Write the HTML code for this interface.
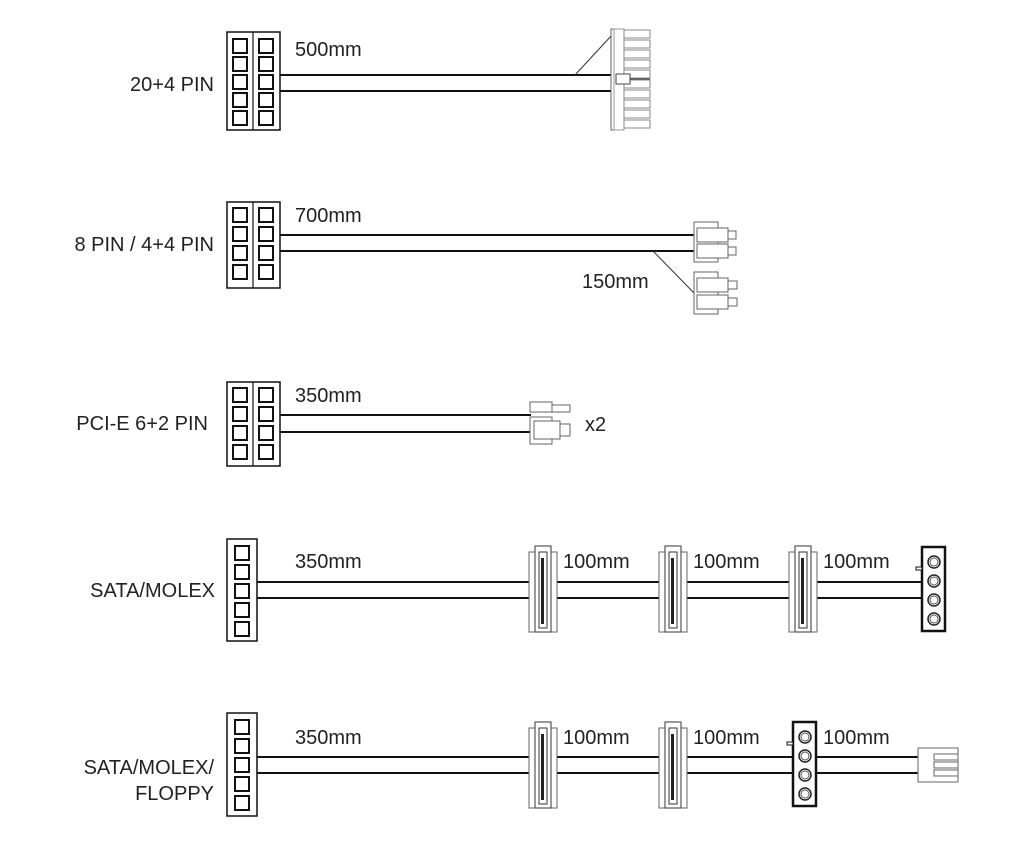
<!DOCTYPE html>
<html><head><style>
body{margin:0;background:#fff}
svg{display:block}
text{font-family:"Liberation Sans",Arial,sans-serif;font-size:20px;fill:#222}
</style></head><body>
<svg width="1024" height="856" viewBox="0 0 1024 856" xmlns="http://www.w3.org/2000/svg">
<defs>
<g id="sq"><rect x="0" y="0" width="14" height="14" fill="none" stroke="#111" stroke-width="2"/></g>
<g id="sata">
<rect x="0" y="6" width="28" height="80" fill="#fff" stroke="#666" stroke-width="1"/>
<rect x="6" y="0" width="16" height="86" fill="#fff" stroke="#555" stroke-width="1.2"/>
<rect x="10" y="6" width="8" height="76" fill="#fff" stroke="#333" stroke-width="1"/>
<rect x="12" y="12" width="3" height="66" fill="#222"/>
</g>
<g id="molex">
<rect x="0" y="0" width="23" height="84" fill="#fff" stroke="#111" stroke-width="2.5"/>
<rect x="-6" y="20" width="6" height="3" fill="#fff" stroke="#111"/>
<circle cx="12" cy="15" r="6" fill="none" stroke="#222" stroke-width="1.5"/><circle cx="12" cy="15" r="4" fill="none" stroke="#555"/>
<circle cx="12" cy="34" r="6" fill="none" stroke="#222" stroke-width="1.5"/><circle cx="12" cy="34" r="4" fill="none" stroke="#555"/>
<circle cx="12" cy="53" r="6" fill="none" stroke="#222" stroke-width="1.5"/><circle cx="12" cy="53" r="4" fill="none" stroke="#555"/>
<circle cx="12" cy="72" r="6" fill="none" stroke="#222" stroke-width="1.5"/><circle cx="12" cy="72" r="4" fill="none" stroke="#555"/>
</g>
</defs>

<!-- Row 1 -->
<text x="214" y="91" text-anchor="end">20+4 PIN</text>
<rect x="227" y="32" width="53" height="98" fill="none" stroke="#111" stroke-width="1.5"/>
<line x1="253" y1="32" x2="253" y2="130" stroke="#111" stroke-width="1.2"/>
<g>
<use href="#sq" x="233" y="39"/><use href="#sq" x="233" y="57"/><use href="#sq" x="233" y="75"/><use href="#sq" x="233" y="93"/><use href="#sq" x="233" y="111"/>
<use href="#sq" x="259" y="39"/><use href="#sq" x="259" y="57"/><use href="#sq" x="259" y="75"/><use href="#sq" x="259" y="93"/><use href="#sq" x="259" y="111"/>
</g>
<text x="295" y="56">500mm</text>
<line x1="280" y1="75" x2="612" y2="75" stroke="#111" stroke-width="2"/>
<line x1="280" y1="91" x2="612" y2="91" stroke="#111" stroke-width="2"/>
<line x1="575" y1="75" x2="612" y2="35" stroke="#333" stroke-width="1"/>
<rect x="611" y="29" width="13" height="101" fill="#fff" stroke="#666"/>
<rect x="614" y="29" width="10" height="101" fill="none" stroke="#999"/>
<g stroke="#888" fill="#fff">
<rect x="624" y="30" width="26" height="8"/><rect x="624" y="40" width="26" height="8"/><rect x="624" y="50" width="26" height="8"/><rect x="624" y="60" width="26" height="8"/><rect x="624" y="70" width="26" height="8"/><rect x="624" y="80" width="26" height="8"/><rect x="624" y="90" width="26" height="8"/><rect x="624" y="100" width="26" height="8"/><rect x="624" y="110" width="26" height="8"/><rect x="624" y="120" width="26" height="8"/>
</g>
<rect x="616" y="74" width="14" height="10" fill="#fff" stroke="#444"/>
<line x1="630" y1="79" x2="650" y2="79" stroke="#444"/>

<!-- Row 2 -->
<text x="214" y="251" text-anchor="end">8 PIN / 4+4 PIN</text>
<rect x="227" y="202" width="53" height="86" fill="none" stroke="#111" stroke-width="1.5"/>
<line x1="253" y1="202" x2="253" y2="288" stroke="#111" stroke-width="1.2"/>
<use href="#sq" x="233" y="208"/><use href="#sq" x="233" y="227"/><use href="#sq" x="233" y="246"/><use href="#sq" x="233" y="265"/>
<use href="#sq" x="259" y="208"/><use href="#sq" x="259" y="227"/><use href="#sq" x="259" y="246"/><use href="#sq" x="259" y="265"/>
<text x="295" y="222">700mm</text>
<line x1="280" y1="235" x2="696" y2="235" stroke="#111" stroke-width="2"/>
<line x1="280" y1="251" x2="696" y2="251" stroke="#111" stroke-width="2"/>
<line x1="653" y1="251" x2="694" y2="293" stroke="#333" stroke-width="1"/>
<g fill="#fff" stroke="#666">
<rect x="694" y="222" width="24" height="40"/><rect x="697" y="228" width="31" height="14"/><rect x="697" y="244" width="31" height="14"/><rect x="728" y="231" width="8" height="8"/><rect x="728" y="247" width="8" height="8"/>
<rect x="694" y="272" width="24" height="42"/><rect x="697" y="278" width="31" height="14"/><rect x="697" y="295" width="31" height="14"/><rect x="728" y="281" width="9" height="8"/><rect x="728" y="298" width="9" height="8"/>
</g>
<text x="582" y="288">150mm</text>

<!-- Row 3 -->
<text x="208" y="430" text-anchor="end">PCI-E 6+2 PIN</text>
<rect x="227" y="382" width="53" height="84" fill="none" stroke="#111" stroke-width="1.5"/>
<line x1="253" y1="382" x2="253" y2="466" stroke="#111" stroke-width="1.2"/>
<use href="#sq" x="233" y="388"/><use href="#sq" x="233" y="407"/><use href="#sq" x="233" y="426"/><use href="#sq" x="233" y="445"/>
<use href="#sq" x="259" y="388"/><use href="#sq" x="259" y="407"/><use href="#sq" x="259" y="426"/><use href="#sq" x="259" y="445"/>
<text x="295" y="402">350mm</text>
<line x1="280" y1="415" x2="531" y2="415" stroke="#111" stroke-width="2"/>
<line x1="280" y1="432" x2="531" y2="432" stroke="#111" stroke-width="2"/>
<g fill="#fff" stroke="#666">
<rect x="530" y="402" width="22" height="10"/><rect x="552" y="405" width="18" height="7"/>
<rect x="530" y="417" width="22" height="27"/><rect x="534" y="421" width="26" height="18"/><rect x="560" y="424" width="10" height="12"/>
</g>
<text x="585" y="431">x2</text>

<!-- Row 4 -->
<text x="215" y="597" text-anchor="end">SATA/MOLEX</text>
<rect x="227" y="539" width="30" height="102" fill="none" stroke="#111" stroke-width="1.5"/>
<use href="#sq" x="235" y="546"/><use href="#sq" x="235" y="565"/><use href="#sq" x="235" y="584"/><use href="#sq" x="235" y="603"/><use href="#sq" x="235" y="622"/>
<text x="295" y="568">350mm</text>
<line x1="257" y1="582" x2="922" y2="582" stroke="#111" stroke-width="2"/>
<line x1="257" y1="598" x2="922" y2="598" stroke="#111" stroke-width="2"/>
<use href="#sata" x="529" y="546"/><use href="#sata" x="659" y="546"/><use href="#sata" x="789" y="546"/>
<use href="#molex" x="922" y="547"/>
<text x="563" y="568">100mm</text><text x="693" y="568">100mm</text><text x="823" y="568">100mm</text>

<!-- Row 5 -->
<text x="214" y="774" text-anchor="end">SATA/MOLEX/</text>
<text x="214" y="800" text-anchor="end">FLOPPY</text>
<rect x="227" y="713" width="30" height="103" fill="none" stroke="#111" stroke-width="1.5"/>
<use href="#sq" x="235" y="720"/><use href="#sq" x="235" y="739"/><use href="#sq" x="235" y="758"/><use href="#sq" x="235" y="777"/><use href="#sq" x="235" y="796"/>
<text x="295" y="744">350mm</text>
<line x1="257" y1="757" x2="920" y2="757" stroke="#111" stroke-width="2"/>
<line x1="257" y1="773" x2="920" y2="773" stroke="#111" stroke-width="2"/>
<use href="#sata" x="529" y="722"/><use href="#sata" x="659" y="722"/>
<use href="#molex" x="793" y="722"/>
<g fill="#fff" stroke="#666">
<rect x="918" y="748" width="40" height="34"/>
<rect x="934" y="754" width="24" height="6"/><rect x="934" y="762" width="24" height="6"/><rect x="934" y="770" width="24" height="6"/>
</g>
<text x="563" y="744">100mm</text><text x="693" y="744">100mm</text><text x="823" y="744">100mm</text>
</svg>
</body></html>
